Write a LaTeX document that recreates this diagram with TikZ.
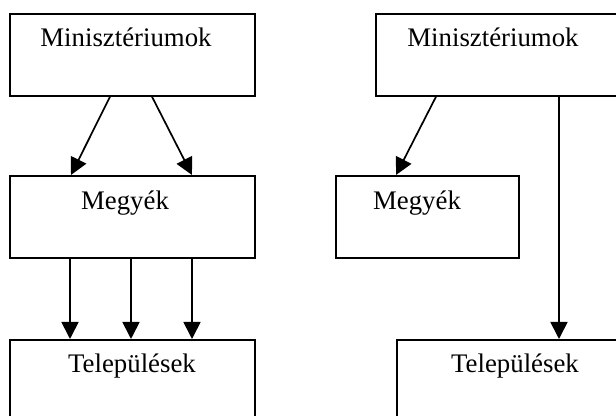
\documentclass[tikz,border=0pt]{standalone}
\usepackage{fontspec}
\setmainfont{Liberation Serif}
\usetikzlibrary{arrows.meta}

\begin{document}
\begin{tikzpicture}[x=0.5pt, y=-0.5pt, >={Triangle[length=8.5pt,width=8.5pt]}, line width=0.85pt,
		doboz/.style={draw, rectangle, inner sep=0pt, anchor=north west, minimum height=41pt},
		felirat/.style={anchor=base, font=\fontsize{13.4}{16}\selectfont}]
	\useasboundingbox (0,0) rectangle (616,416);
	\clip (0,0) rectangle (616,416);
	
	% ==================== bal oldal ====================
	\node[doboz, minimum width=122.5pt] (min1) at (9,13) {};
	\node[doboz, minimum width=122.5pt] (megy1) at (9,175) {};
	\node[doboz, minimum width=122.5pt] (tel1) at (9,339) {};
	\node[felirat] (tmin1) at (126,47) {Minisztériumok};
	\node[felirat] (tmegy1) at (125,210) {Megyék};
	\node[felirat] (ttel1) at (132,373) {Települések};
	
	\draw[->] ([xshift=50.5pt]min1.south west) -- ([xshift=31pt]megy1.north west);
	\draw[->] ([xshift=71.5pt]min1.south west) -- ([xshift=91.5pt]megy1.north west);
	\foreach \d in {30.5pt,61pt,91.5pt}
		\draw[->] ([xshift=\d]megy1.south west) -- ([xshift=\d]tel1.north west);
	
	% ==================== jobb oldal ====================
	\node[doboz, minimum width=122.5pt] (min2) at (375,13) {};
	\node[doboz, minimum width=91.5pt] (megy2) at (335,175) {};
	\node[doboz, minimum width=122.5pt] (tel2) at (396,339) {};
	\node[felirat] (tmin2) at (493,47) {Minisztériumok};
	\node[felirat] (tmegy2) at (417,210) {Megyék};
	\node[felirat] (ttel2) at (515,373) {Települések};
	
	\draw[->] ([xshift=30.5pt]min2.south west) -- ([xshift=30.5pt]megy2.north west);
	\draw[->] ([xshift=92pt]min2.south west) -- ([xshift=81.5pt]tel2.north west);
\end{tikzpicture}
\end{document}
